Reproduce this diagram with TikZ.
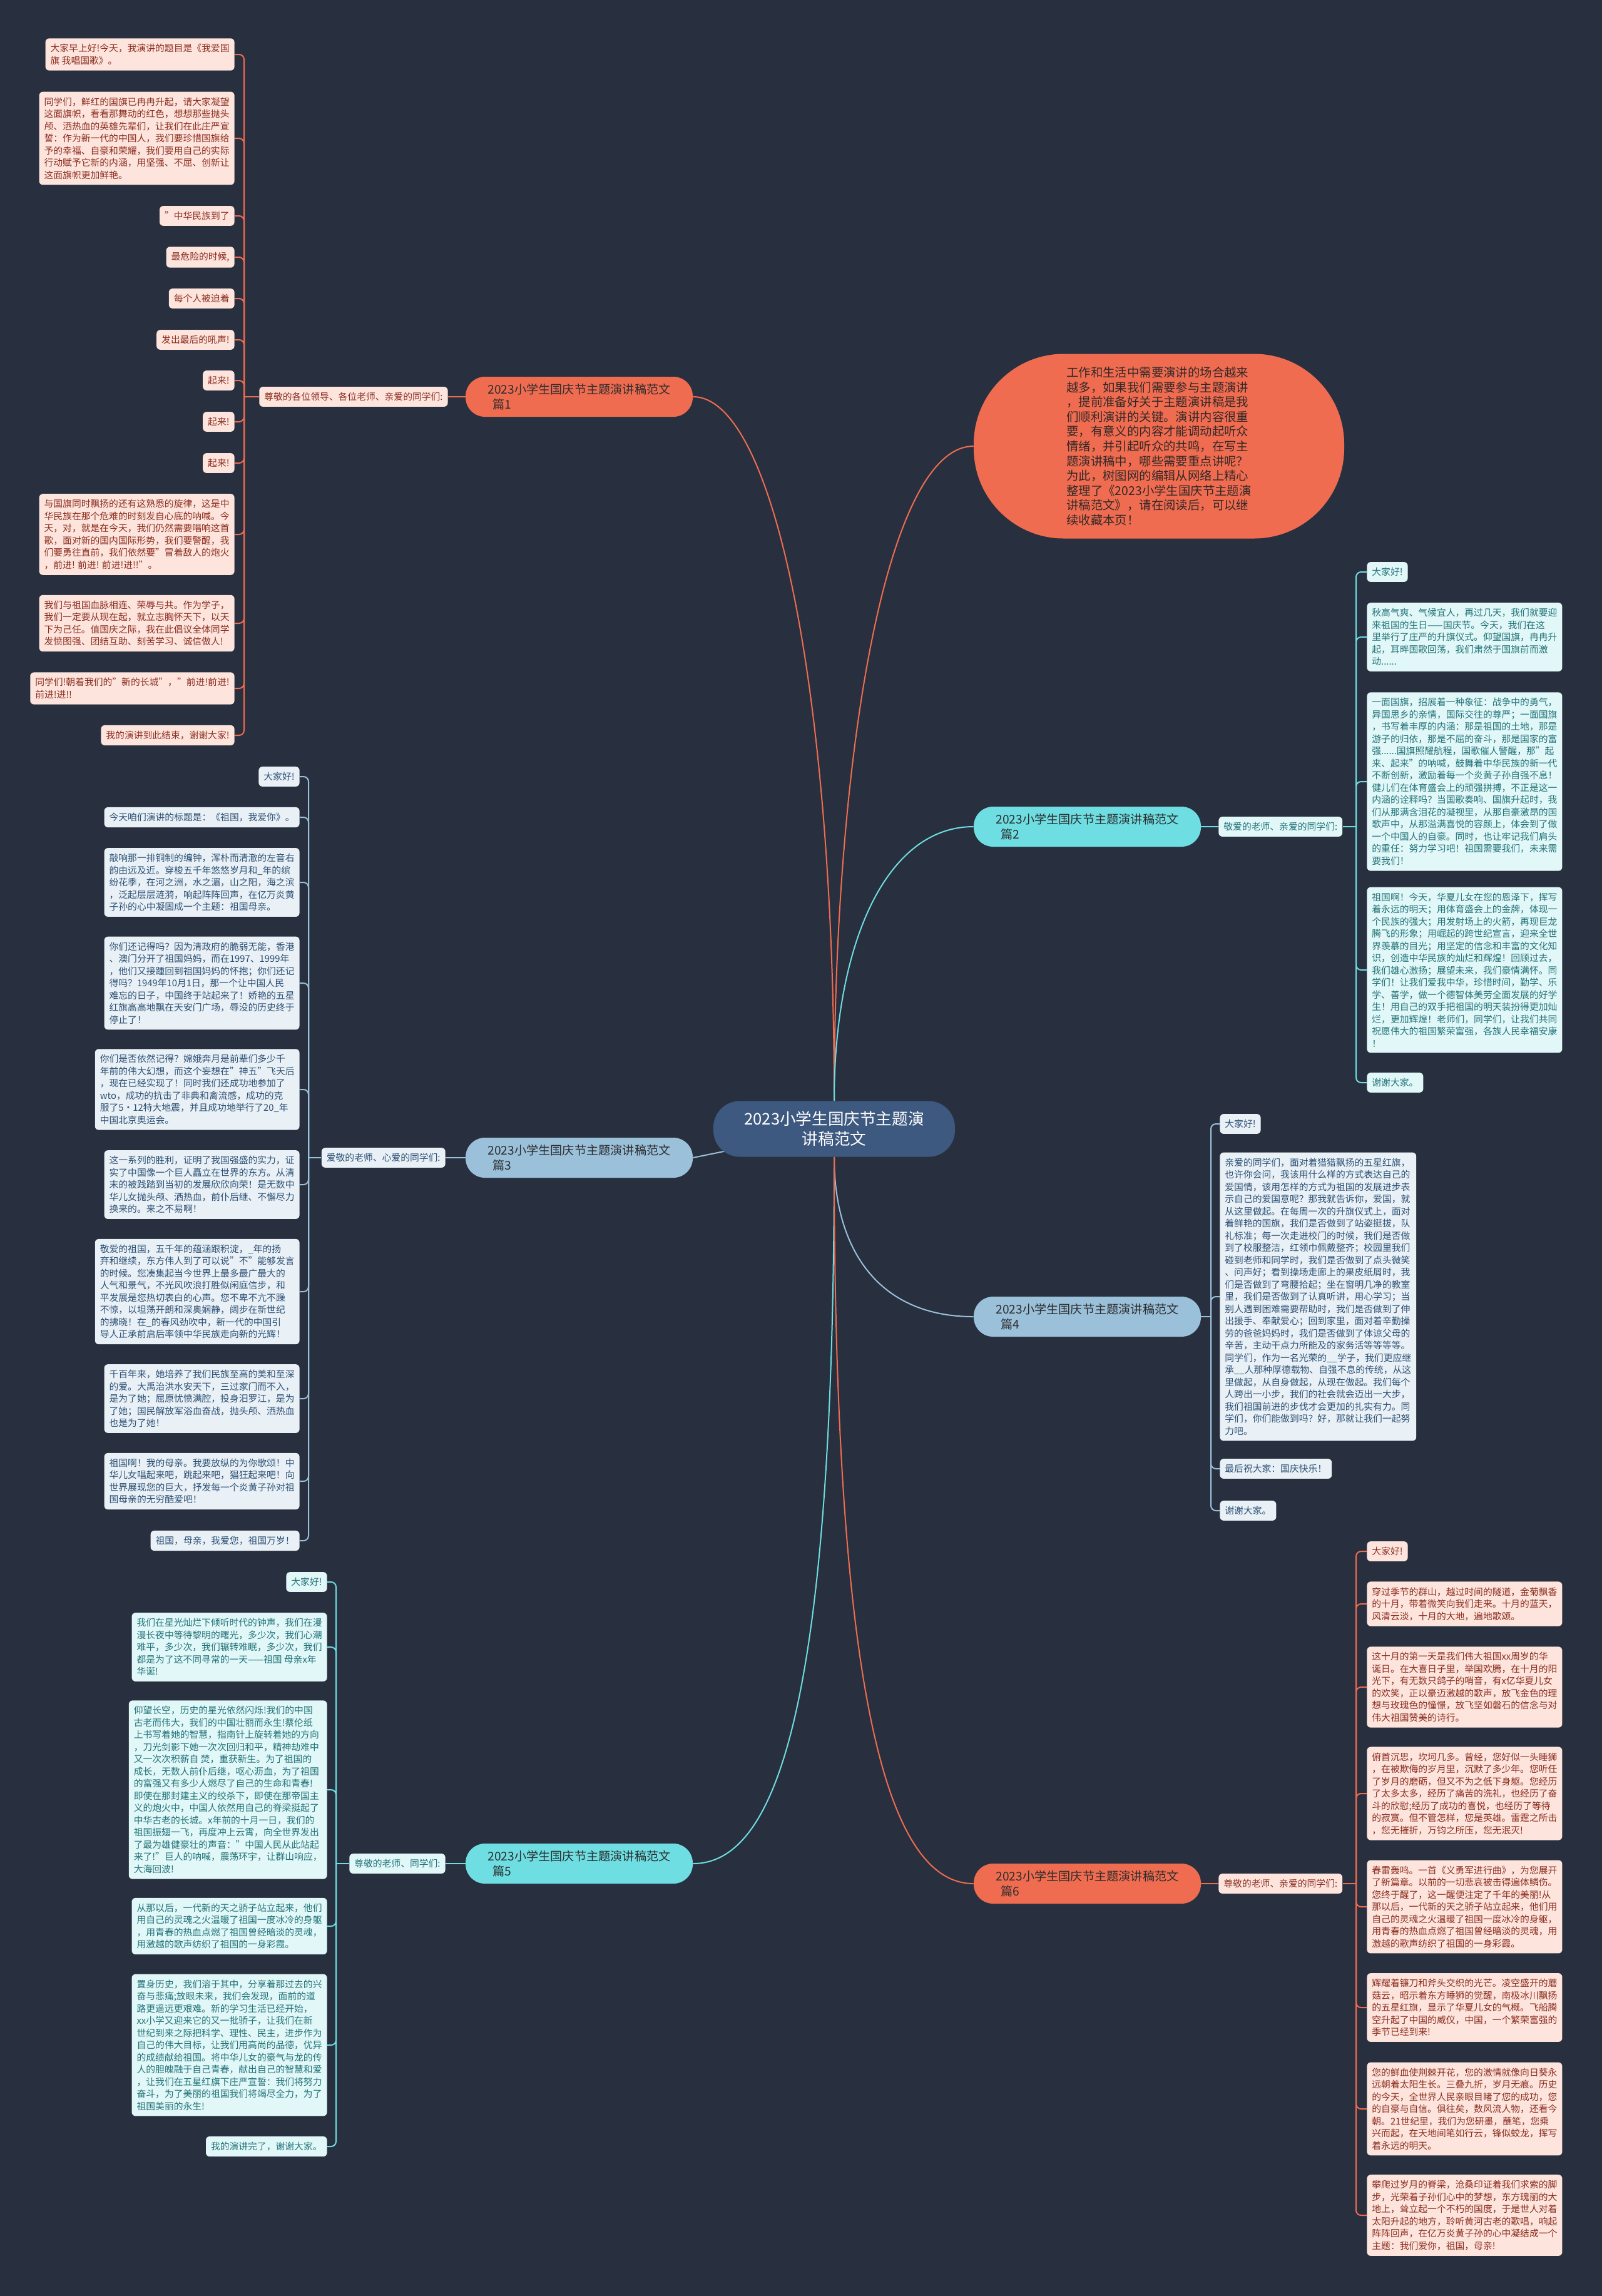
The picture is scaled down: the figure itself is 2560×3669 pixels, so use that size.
\documentclass[tikz,border=0pt]{standalone}
\usepackage{fontspec}
\setmainfont{Noto Sans CJK SC}
\pgfdeclarelayer{bg}
\pgfdeclarelayer{lines}
\pgfsetlayers{bg,lines,main}
\definecolor{bgcol}{RGB}{40,48,63}
\definecolor{orangeC}{RGB}{240,108,80}
\definecolor{cyanC}{RGB}{110,222,226}
\definecolor{blueC}{RGB}{155,192,218}
\definecolor{ctrC}{RGB}{62,89,128}
\definecolor{pinkF}{RGB}{253,229,222}
\definecolor{pinkT}{RGB}{140,45,30}
\definecolor{cyanF}{RGB}{225,247,248}
\definecolor{cyanT}{RGB}{35,115,120}
\definecolor{blueF}{RGB}{233,241,247}
\definecolor{blueT}{RGB}{45,80,115}
\definecolor{brT}{RGB}{45,45,45}
\definecolor{introT}{RGB}{50,40,40}
\newcommand\leaffont{\fontsize{7.4pt}{9.75pt}\selectfont}
\newcommand\brfont{\fontsize{9.6pt}{12pt}\selectfont}
\newcommand\ctrfont{\fontsize{12.8pt}{16pt}\selectfont}
\newcommand\introfont{\fontsize{9.7pt}{11.8pt}\selectfont}
\tikzset{
  leaf/.style={rounded corners=3pt, inner xsep=4pt, inner ysep=4.5pt, align=left, font=\leaffont},
  leafP/.style={leaf, fill=pinkF, text=pinkT},
  leafC/.style={leaf, fill=cyanF, text=cyanT},
  leafB/.style={leaf, fill=blueF, text=blueT},
  branch/.style={rounded corners=15.5pt, minimum width=181.5pt, minimum height=32pt, inner sep=0pt, align=left, font=\brfont, text=brT},
  conO/.style={draw=orangeC, line width=1pt, rounded corners=4pt},
  conC/.style={draw=cyanC, line width=1pt, rounded corners=4pt},
  conB/.style={draw=blueC, line width=1pt, rounded corners=4pt},
  curO/.style={draw=orangeC, line width=1pt},
  curC/.style={draw=cyanC, line width=1pt},
  curB/.style={draw=blueC, line width=1pt}
}
\begin{document}
\begin{tikzpicture}[x=0.5pt,y=-0.5pt]
\begin{pgfonlayer}{bg}
\fill[bgcol] (0,0) rectangle (2560,3669);
\end{pgfonlayer}
\useasboundingbox (0,0) rectangle (2560,3669);

% center and branches
\node[fill=ctrC, text=white, rounded corners=21pt, minimum width=193pt, minimum height=44.5pt, inner sep=0pt, align=center, font=\ctrfont] (ctr) at (1333,1804) {2023小学生国庆节主题演\\讲稿范文};
\node[fill=orangeC, rounded corners=72pt, minimum width=296pt, minimum height=147.5pt, inner sep=0pt, align=left, font=\introfont, text=introT] (intro) at (1852,713) {工作和生活中需要演讲的场合越来\\越多，如果我们需要参与主题演讲\\，提前准备好关于主题演讲稿是我\\们顺利演讲的关键。演讲内容很重\\要，有意义的内容才能调动起听众\\情绪，并引起听众的共鸣，在写主\\题演讲稿中，哪些需要重点讲呢？\\为此，树图网的编辑从网络上精心\\整理了《2023小学生国庆节主题演\\讲稿范文》，请在阅读后，可以继\\续收藏本页！};
\node[branch, fill=orangeC] (br1) at (925.5,634) {2023小学生国庆节主题演讲稿范文\\\hspace*{0.4em}篇1};
\node[branch, fill=cyanC] (br2) at (1737.5,1321) {2023小学生国庆节主题演讲稿范文\\\hspace*{0.4em}篇2};
\node[branch, fill=blueC] (br3) at (925.5,1850) {2023小学生国庆节主题演讲稿范文\\\hspace*{0.4em}篇3};
\node[branch, fill=blueC] (br4) at (1737.5,2104) {2023小学生国庆节主题演讲稿范文\\\hspace*{0.4em}篇4};
\node[branch, fill=cyanC] (br5) at (925.5,2978) {2023小学生国庆节主题演讲稿范文\\\hspace*{0.4em}篇5};
\node[branch, fill=orangeC] (br6) at (1737.5,3010) {2023小学生国庆节主题演讲稿范文\\\hspace*{0.4em}篇6};

% mid labels
\node[leafP, anchor=east] (m1) at (716,634) {尊敬的各位领导、各位老师、亲爱的同学们:};
\node[leafC, anchor=west] (m2) at (1947,1321) {敬爱的老师、亲爱的同学们:};
\node[leafB, anchor=east] (m3) at (712,1850) {爱敬的老师、心爱的同学们:};
\node[leafC, anchor=east] (m5) at (712,2978) {尊敬的老师、同学们:};
\node[leafP, anchor=west] (m6) at (1947,3010) {尊敬的老师、亲爱的同学们:};

% group 1
\node[leafP, anchor=east] (a1) at (375,87) {大家早上好!今天，我演讲的题目是《我爱国\\旗 我唱国歌》。};
\node[leafP, anchor=east] (a2) at (375,221) {同学们，鲜红的国旗已冉冉升起，请大家凝望\\这面旗帜，看看那舞动的红色，想想那些抛头\\颅、洒热血的英雄先辈们，让我们在此庄严宣\\誓：作为新一代的中国人，我们要珍惜国旗给\\予的幸福、自豪和荣耀，我们要用自己的实际\\行动赋予它新的内涵，用坚强、不屈、创新让\\这面旗帜更加鲜艳。};
\node[leafP, anchor=east] (a3) at (375,345) {"中华民族到了};
\node[leafP, anchor=east] (a4) at (375,411) {最危险的时候,};
\node[leafP, anchor=east] (a5) at (375,477) {每个人被迫着};
\node[leafP, anchor=east] (a6) at (375,543) {发出最后的吼声!};
\node[leafP, anchor=east] (a7) at (375,608) {起来!};
\node[leafP, anchor=east] (a8) at (375,674) {起来!};
\node[leafP, anchor=east] (a9) at (375,740) {起来!};
\node[leafP, anchor=east] (a10) at (375,854) {与国旗同时飘扬的还有这熟悉的旋律，这是中\\华民族在那个危难的时刻发自心底的呐喊。今\\天，对，就是在今天，我们仍然需要唱响这首\\歌，面对新的国内国际形势，我们要警醒，我\\们要勇往直前，我们依然要"冒着敌人的炮火\\，前进! 前进! 前进!进!!"。};
\node[leafP, anchor=east] (a11) at (375,996) {我们与祖国血脉相连、荣辱与共。作为学子，\\我们一定要从现在起，就立志胸怀天下，以天\\下为己任。值国庆之际，我在此倡议全体同学\\发愤图强、团结互助、刻苦学习、诚信做人!};
\node[leafP, anchor=east] (a12) at (375,1100) {同学们!朝着我们的"新的长城"，"前进!前进!\\前进!进!!};
\node[leafP, anchor=east] (a13) at (375,1175) {我的演讲到此结束，谢谢大家!};

% group 2
\node[leafC, anchor=west] (b1) at (2184,914) {大家好!};
\node[leafC, anchor=west] (b2) at (2184,1018) {秋高气爽、气候宜人，再过几天，我们就要迎\\来祖国的生日——国庆节。今天，我们在这\\里举行了庄严的升旗仪式。仰望国旗，冉冉升\\起，耳畔国歌回荡，我们肃然于国旗前而激\\动......};
\node[leafC, anchor=west] (b3) at (2184,1249) {一面国旗，招展着一种象征：战争中的勇气，\\异国思乡的亲情，国际交往的尊严；一面国旗\\，书写着丰厚的内涵：那是祖国的土地，那是\\游子的归依，那是不屈的奋斗，那是国家的富\\强......国旗照耀航程，国歌催人警醒，那"起\\来、起来"的呐喊，鼓舞着中华民族的新一代\\不断创新，激励着每一个炎黄子孙自强不息！\\健儿们在体育盛会上的顽强拼搏，不正是这一\\内涵的诠释吗？当国歌奏响、国旗升起时，我\\们从那满含泪花的凝视里，从那自豪激昂的国\\歌声中，从那溢满喜悦的容颜上，体会到了做\\一个中国人的自豪。同时，也让牢记我们肩头\\的重任：努力学习吧！祖国需要我们，未来需\\要我们！};
\node[leafC, anchor=west] (b4) at (2184,1550) {祖国啊！今天，华夏儿女在您的恩泽下，挥写\\着永远的明天；用体育盛会上的金牌，体现一\\个民族的强大；用发射场上的火箭，再现巨龙\\腾飞的形象；用崛起的跨世纪宣言，迎来全世\\界羡慕的目光；用坚定的信念和丰富的文化知\\识，创造中华民族的灿烂和辉煌！回顾过去，\\我们雄心激扬；展望未来，我们豪情满怀。同\\学们！让我们爱我中华，珍惜时间，勤学、乐\\学、善学，做一个德智体美劳全面发展的好学\\生！用自己的双手把祖国的明天装扮得更加灿\\烂，更加辉煌！老师们，同学们，让我们共同\\祝愿伟大的祖国繁荣富强，各族人民幸福安康\\！};
\node[leafC, anchor=west] (b5) at (2184,1730) {谢谢大家。};

% group 3
\node[leafB, anchor=east] (c1) at (479,1241) {大家好!};
\node[leafB, anchor=east] (c2) at (479,1306) {今天咱们演讲的标题是：《祖国，我爱你》。};
\node[leafB, anchor=east] (c3) at (479,1410) {敲响那一排铜制的编钟，浑朴而清澈的左音右\\韵由远及近。穿梭五千年悠悠岁月和\_年的缤\\纷花季，在河之洲，水之湄，山之阳，海之滨\\，泛起层层涟漪，响起阵阵回声，在亿万炎黄\\子孙的心中凝固成一个主题：祖国母亲。};
\node[leafB, anchor=east] (c4) at (479,1571) {你们还记得吗？因为清政府的脆弱无能，香港\\、澳门分开了祖国妈妈，而在1997、1999年\\，他们又接踵回到祖国妈妈的怀抱；你们还记\\得吗？1949年10月1日，那一个让中国人民\\难忘的日子，中国终于站起来了！娇艳的五星\\红旗高高地飘在天安门广场，辱没的历史终于\\停止了！};
\node[leafB, anchor=east] (c5) at (479,1741) {你们是否依然记得？嫦娥奔月是前辈们多少千\\年前的伟大幻想，而这个妄想在"神五"飞天后\\，现在已经实现了！同时我们还成功地参加了\\wto，成功的抗击了非典和禽流感，成功的克\\服了5·12特大地震，并且成功地举行了20\_年\\中国北京奥运会。};
\node[leafB, anchor=east] (c6) at (479,1893) {这一系列的胜利，证明了我国强盛的实力，证\\实了中国像一个巨人矗立在世界的东方。从清\\末的被践踏到当初的发展欣欣向荣！是无数中\\华儿女抛头颅、洒热血，前仆后继、不懈尽力\\换来的。来之不易啊！};
\node[leafB, anchor=east] (c7) at (479,2064) {敬爱的祖国，五千年的蕴涵跟积淀，\_年的扬\\弃和继续，东方伟人到了可以说"不"能够发言\\的时候。您凑集起当今世界上最多最广最大的\\人气和景气，不光风吹浪打胜似闲庭信步，和\\平发展是您热切表白的心声。您不卑不亢不躁\\不惊，以坦荡开朗和深奥娴静，阔步在新世纪\\的拂晓！在\_的春风劲吹中，新一代的中国引\\导人正承前启后率领中华民族走向新的光辉！};
\node[leafB, anchor=east] (c8) at (479,2235) {千百年来，她培养了我们民族至高的美和至深\\的爱。大禹治洪水安天下，三过家门而不入，\\是为了她；屈原忧愤满腔，投身汨罗江，是为\\了她；国民解放军浴血奋战，抛头颅、洒热血\\也是为了她！};
\node[leafB, anchor=east] (c9) at (479,2367) {祖国啊！我的母亲。我要放纵的为你歌颂！中\\华儿女唱起来吧，跳起来吧，猖狂起来吧！向\\世界展现您的巨大，抒发每一个炎黄子孙对祖\\国母亲的无穷酷爱吧！};
\node[leafB, anchor=east] (c10) at (479,2462) {祖国，母亲，我爱您，祖国万岁！};

% group 4
\node[leafB, anchor=west] (d1) at (1949,1796) {大家好!};
\node[leafB, anchor=west] (d2) at (1949,2072) {亲爱的同学们，面对着猎猎飘扬的五星红旗，\\也许你会问，我该用什么样的方式表达自己的\\爱国情，该用怎样的方式为祖国的发展进步表\\示自己的爱国意呢？那我就告诉你，爱国，就\\从这里做起。在每周一次的升旗仪式上，面对\\着鲜艳的国旗，我们是否做到了站姿挺拔，队\\礼标准；每一次走进校门的时候，我们是否做\\到了校服整洁，红领巾佩戴整齐；校园里我们\\碰到老师和同学时，我们是否做到了点头微笑\\、问声好；看到操场走廊上的果皮纸屑时，我\\们是否做到了弯腰拾起；坐在窗明几净的教室\\里，我们是否做到了认真听讲，用心学习；当\\别人遇到困难需要帮助时，我们是否做到了伸\\出援手、奉献爱心；回到家里，面对着辛勤操\\劳的爸爸妈妈时，我们是否做到了体谅父母的\\辛苦，主动干点力所能及的家务活等等等等。\\同学们，作为一名光荣的\_\_学子，我们更应继\\承\_\_人那种厚德载物、自强不息的传统，从这\\里做起，从自身做起，从现在做起。我们每个\\人跨出一小步，我们的社会就会迈出一大步，\\我们祖国前进的步伐才会更加的扎实有力。同\\学们，你们能做到吗？好，那就让我们一起努\\力吧。};
\node[leafB, anchor=west] (d3) at (1949,2347) {最后祝大家：国庆快乐！};
\node[leafB, anchor=west] (d4) at (1949,2414) {谢谢大家。};

% group 5
\node[leafC, anchor=east] (e1) at (523,2528) {大家好!};
\node[leafC, anchor=east] (e2) at (523,2632) {我们在星光灿烂下倾听时代的钟声，我们在漫\\漫长夜中等待黎明的曙光，多少次，我们心潮\\难平，多少次，我们辗转难眠，多少次，我们\\都是为了这不同寻常的一天——祖国 母亲x年\\华诞!};
\node[leafC, anchor=east] (e3) at (523,2860) {仰望长空，历史的星光依然闪烁!我们的中国\\古老而伟大，我们的中国壮丽而永生!蔡伦纸\\上书写着她的智慧，指南针上旋转着她的方向\\，刀光剑影下她一次次回归和平，精神劫难中\\又一次次积薪自 焚，重获新生。为了祖国的\\成长，无数人前仆后继，呕心沥血，为了祖国\\的富强又有多少人燃尽了自己的生命和青春!\\即使在那封建主义的绞杀下，即使在那帝国主\\义的炮火中，中国人依然用自己的脊梁挺起了\\中华古老的长城。x年前的十月一日，我们的\\祖国振翅一飞，再度冲上云霄，向全世界发出\\了最为雄健豪壮的声音："中国人民从此站起\\来了!"巨人的呐喊，震荡环宇，让群山响应，\\大海回波!};
\node[leafC, anchor=east] (e4) at (523,3078) {从那以后，一代新的天之骄子站立起来，他们\\用自己的灵魂之火温暖了祖国一度冰冷的身躯\\，用青春的热血点燃了祖国曾经暗淡的灵魂，\\用激越的歌声纺织了祖国的一身彩霞。};
\node[leafC, anchor=east] (e5) at (523,3268) {置身历史，我们溶于其中，分享着那过去的兴\\奋与悲痛;放眼未来，我们会发现，面前的道\\路更遥远更艰难。新的学习生活已经开始，\\xx小学又迎来它的又一批骄子，让我们在新\\世纪到来之际把科学、理性、民主，进步作为\\自己的伟大目标，让我们用高尚的品德，优异\\的成绩献给祖国。将中华儿女的豪气与龙的传\\人的胆魄融于自己青春，献出自己的智慧和爱\\，让我们在五星红旗下庄严宣誓：我们将努力\\奋斗，为了美丽的祖国我们将竭尽全力，为了\\祖国美丽的永生!};
\node[leafC, anchor=east] (e6) at (523,3430) {我的演讲完了，谢谢大家。};

% group 6
\node[leafP, anchor=west] (f1) at (2184,2479) {大家好!};
\node[leafP, anchor=west] (f2) at (2184,2563) {穿过季节的群山，越过时间的隧道，金菊飘香\\的十月，带着微笑向我们走来。十月的蓝天，\\风清云淡，十月的大地，遍地歌颂。};
\node[leafP, anchor=west] (f3) at (2184,2696) {这十月的第一天是我们伟大祖国xx周岁的华\\诞日。在大喜日子里，举国欢腾，在十月的阳\\光下，有无数只鸽子的哨音，有x亿华夏儿女\\的欢笑，正以豪迈激越的歌声，放飞金色的理\\想与玫瑰色的憧憬，放飞坚如磐石的信念与对\\伟大祖国赞美的诗行。};
\node[leafP, anchor=west] (f4) at (2184,2866) {俯首沉思，坎坷几多。曾经，您好似一头睡狮\\，在被欺侮的岁月里，沉默了多少年。您听任\\了岁月的磨砺，但又不为之低下身躯。您经历\\了太多太多，经历了痛苦的洗礼，也经历了奋\\斗的欣慰;经历了成功的喜悦，也经历了等待\\的寂寞。但不管怎样，您是英雄。雷霆之所击\\，您无摧折，万钧之所压，您无泯灭!};
\node[leafP, anchor=west] (f5) at (2184,3047) {春雷轰鸣。一首《义勇军进行曲》，为您展开\\了新篇章。以前的一切悲哀被击得遍体鳞伤。\\您终于醒了，这一醒便注定了千年的美丽!从\\那以后，一代新的天之骄子站立起来，他们用\\自己的灵魂之火温暖了祖国一度冰冷的身躯，\\用青春的热血点燃了祖国曾经暗淡的灵魂，用\\激越的歌声纺织了祖国的一身彩霞。};
\node[leafP, anchor=west] (f6) at (2184,3208) {辉耀着镰刀和斧头交织的光芒。凌空盛开的蘑\\菇云，昭示着东方睡狮的觉醒，南极冰川飘扬\\的五星红旗，显示了华夏儿女的气概。飞船腾\\空升起了中国的威仪，中国，一个繁荣富强的\\季节已经到来!};
\node[leafP, anchor=west] (f7) at (2184,3370) {您的鲜血使荆棘开花，您的激情就像向日葵永\\远朝着太阳生长。三叠九折，岁月无痕。历史\\的今天，全世界人民亲眼目睹了您的成功，您\\的自豪与自信。俱往矣，数风流人物，还看今\\朝。21世纪里，我们为您研墨，蘸笔，您乘\\兴而起，在天地间笔如行云，锋似蛟龙，挥写\\着永远的明天。};
\node[leafP, anchor=west] (f8) at (2184,3540) {攀爬过岁月的脊梁，沧桑印证着我们求索的脚\\步，光荣着子孙们心中的梦想，东方瑰丽的大\\地上，耸立起一个不朽的国度，于是世人对着\\太阳升起的地方，聆听黄河古老的歌唱，响起\\阵阵回声，在亿万炎黄子孙的心中凝结成一个\\主题：我们爱你，祖国，母亲!};

% trunk coordinates
\coordinate (t1) at (390,634);
\coordinate (t2) at (2167,1321);
\coordinate (t3) at (493,1850);
\coordinate (t4) at (1935,2104);
\coordinate (t5) at (537,2978);
\coordinate (t6) at (2167,3010);

\begin{pgfonlayer}{lines}
\draw[curO] (br1.east) .. controls +(130,0) and +(0,-650) .. (ctr.north);
\draw[curO] (intro.west) .. controls +(-140,0) and +(0,-550) .. (ctr.north);
\draw[curC] (br2.west) .. controls +(-140,0) and +(0,-250) .. (ctr.north);
\draw[curB] (br3.east) -- (ctr.center);
\draw[curB] (ctr.south) .. controls +(0,150) and +(-150,0) .. (br4.west);
\draw[curC] (ctr.south) .. controls +(0,850) and +(140,0) .. (br5.east);
\draw[curO] (ctr.south) .. controls +(0,850) and +(-140,0) .. (br6.west);

\draw[curO] (br1.west) -- (m1.east);
\draw[curC] (br2.east) -- (m2.west);
\draw[curB] (br3.west) -- (m3.east);
\draw[curC] (br5.west) -- (m5.east);
\draw[curO] (br6.east) -- (m6.west);

\draw[curO] (m1.west) -- (t1);
\foreach \n in {a1,a2,a3,a4,a5,a6,a7,a8,a9,a10,a11,a12,a13} \draw[conO] (t1) |- (\n.east);
\draw[curC] (m2.east) -- (t2);
\foreach \n in {b1,b2,b3,b4,b5} \draw[conC] (t2) |- (\n.west);
\draw[curB] (m3.west) -- (t3);
\foreach \n in {c1,c2,c3,c4,c5,c6,c7,c8,c9,c10} \draw[conB] (t3) |- (\n.east);
\draw[curB] (br4.east) -- (t4);
\foreach \n in {d1,d2,d3,d4} \draw[conB] (t4) |- (\n.west);
\draw[curC] (m5.west) -- (t5);
\foreach \n in {e1,e2,e3,e4,e5,e6} \draw[conC] (t5) |- (\n.east);
\draw[curO] (m6.east) -- (t6);
\foreach \n in {f1,f2,f3,f4,f5,f6,f7,f8} \draw[conO] (t6) |- (\n.west);
\end{pgfonlayer}
\end{tikzpicture}
\end{document}
